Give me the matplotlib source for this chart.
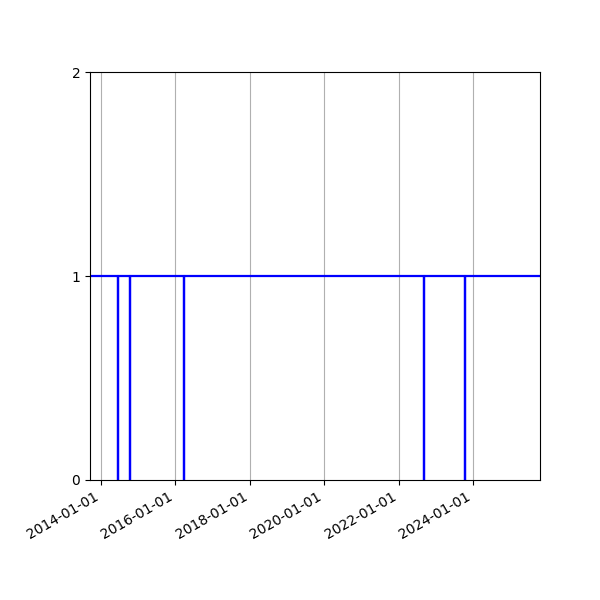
import matplotlib
matplotlib.use("Agg")
import matplotlib.pyplot as plt
import matplotlib.dates as mdates
import datetime as dt

# status series (1 = up, 0 = down), as step changes
change_dates = ["2013-09-15", "2014-06-17", "2014-06-18", "2014-10-16", "2014-10-17",
                "2016-03-21", "2016-03-28", "2022-09-09", "2022-09-10",
                "2023-10-11", "2023-10-16", "2025-10-20"]
status = [1, 0, 1, 0, 1, 0, 1, 0, 1, 0, 1, 1]
x_range = ["2013-09-15", "2025-10-20"]
y_ticks = [0, 1, 2]

d = [dt.datetime.strptime(s, "%Y-%m-%d") for s in change_dates]

fig, ax = plt.subplots(figsize=(6, 6), dpi=100)
fig.subplots_adjust(left=0.15, right=0.9, top=0.88, bottom=0.2)
ax.plot(d, status, drawstyle="steps-post", color="blue", lw=1.6)
ax.set_xlim(*[dt.datetime.strptime(s, "%Y-%m-%d") for s in x_range])
ax.set_ylim(0, 2)
ax.set_yticks(y_ticks)
ax.xaxis.set_major_locator(mdates.YearLocator(2))
ax.xaxis.set_major_formatter(mdates.DateFormatter("%Y-%m-%d"))
ax.grid(axis="x", color="#b0b0b0")
ax.set_axisbelow(True)
for lbl in ax.get_xticklabels():
    lbl.set_rotation(30)
    lbl.set_ha("right")
fig.savefig("out.png", dpi=100)
